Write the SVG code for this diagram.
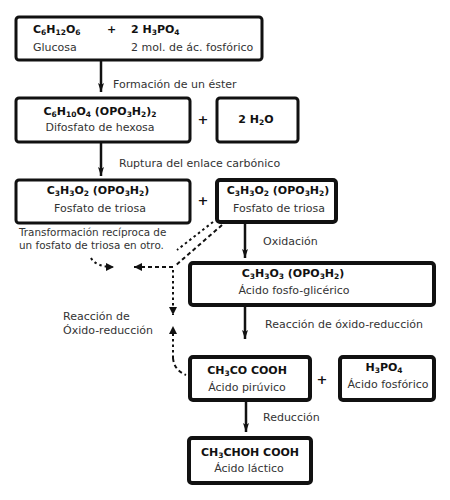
<svg xmlns="http://www.w3.org/2000/svg" width="450" height="500" viewBox="0 0 450 500">
<style>
.box{fill:#fff;stroke:#111;stroke-width:3}
.thick{stroke-width:4}
.f{font-family:"DejaVu Sans","Verdana",sans-serif;font-size:11px;font-weight:bold;fill:#111}
.n{font-family:"DejaVu Sans","Verdana",sans-serif;font-size:11px;fill:#333}
.s{font-size:10.4px}
.m{text-anchor:middle}
.sub{font-size:7.5px}
.plus{font-family:"DejaVu Sans",sans-serif;font-size:13px;font-weight:bold;fill:#111;text-anchor:middle}
.arr{stroke:#111;stroke-width:2.5;fill:none}
.dash{stroke:#111;stroke-width:2;fill:none;stroke-dasharray:4 3}
.dot{stroke:#111;stroke-width:2;fill:none;stroke-dasharray:2.5 3}
</style>
<defs>
<marker id="ah" markerUnits="userSpaceOnUse" markerWidth="10" markerHeight="10" refX="9" refY="4" orient="auto">
<path d="M0,1 L9,4 L0,7 L2,4 z" fill="#111"/>
</marker>
<marker id="dh" markerUnits="userSpaceOnUse" markerWidth="10" markerHeight="10" refX="8" refY="4" orient="auto">
<path d="M0,0 L8,4 L0,8 z" fill="#111"/>
</marker>
</defs>
<rect width="450" height="500" fill="#fff"/>
<g id="connectors">
<line class="arr" x1="101" y1="60" x2="101" y2="92" marker-end="url(#ah)"/>
<line class="arr" x1="101" y1="142" x2="101" y2="176" marker-end="url(#ah)"/>
<line class="arr" x1="245" y1="222" x2="245" y2="258" marker-end="url(#ah)"/>
<line class="arr" x1="245" y1="305" x2="245" y2="339" marker-end="url(#ah)"/>
<line class="arr" x1="246" y1="400" x2="246" y2="432" marker-end="url(#ah)"/>
<path class="dot" d="M213,222 L177,250"/>
<path class="dash" d="M222,225 L175,266"/>
<path class="dash" d="M173,267 L134,267" marker-end="url(#dh)"/>
<path class="dot" d="M91,258 Q96,267 114,267" marker-end="url(#dh)"/>
<path class="dot" d="M173,270 L173,315" marker-end="url(#dh)"/>
<path class="dot" d="M173,358 L173,326" marker-end="url(#dh)"/>
<path class="dash" d="M173,358 Q174,370 186,375"/>
</g>
<g id="n1">
<rect class="box" x="16" y="17" width="246" height="43" rx="3"/>
<text class="f" x="33" y="33">C<tspan class="sub" dy="2">6</tspan><tspan dy="-2">H</tspan><tspan class="sub" dy="2">12</tspan><tspan dy="-2">O</tspan><tspan class="sub" dy="2">6</tspan></text>
<text class="f" x="107" y="33">+</text>
<text class="f" x="131" y="33">2 H<tspan class="sub" dy="2">3</tspan><tspan dy="-2">PO</tspan><tspan class="sub" dy="2">4</tspan></text>
<text class="n" x="33" y="51">Glucosa</text>
<text class="n" x="131" y="51">2 mol. de ác. fosfórico</text>
</g>
<text class="n" x="113" y="88">Formación de un éster</text>
<g id="n2">
<rect class="box" x="16" y="98" width="174" height="44" rx="3"/>
<text class="f m" x="100" y="115">C<tspan class="sub" dy="2">6</tspan><tspan dy="-2">H</tspan><tspan class="sub" dy="2">10</tspan><tspan dy="-2">O</tspan><tspan class="sub" dy="2">4</tspan><tspan dy="-2">  (OPO</tspan><tspan class="sub" dy="2">3</tspan><tspan dy="-2">H</tspan><tspan class="sub" dy="2">2</tspan><tspan dy="-2">)</tspan><tspan class="sub" dy="2">2</tspan></text>
<text class="n m" x="100" y="131">Difosfato de hexosa</text>
</g>
<text class="plus" x="203" y="124">+</text>
<g id="n3">
<rect class="box" x="217" y="98" width="81" height="44" rx="3"/>
<text class="f m" x="256" y="123">2 H<tspan class="sub" dy="2">2</tspan><tspan dy="-2">O</tspan></text>
</g>
<text class="n" x="119" y="167">Ruptura del enlace carbónico</text>
<g id="n4">
<rect class="box" x="16" y="180" width="174" height="43" rx="3"/>
<text class="f m" x="98" y="194">C<tspan class="sub" dy="2">3</tspan><tspan dy="-2">H</tspan><tspan class="sub" dy="2">3</tspan><tspan dy="-2">O</tspan><tspan class="sub" dy="2">2</tspan><tspan dy="-2"> (OPO</tspan><tspan class="sub" dy="2">3</tspan><tspan dy="-2">H</tspan><tspan class="sub" dy="2">2</tspan><tspan dy="-2">)</tspan></text>
<text class="n m" x="100" y="212">Fosfato de triosa</text>
</g>
<text class="plus" x="203" y="205">+</text>
<g id="n5">
<rect class="box thick" x="217" y="180" width="119" height="42" rx="3"/>
<text class="f m" x="278" y="194">C<tspan class="sub" dy="2">3</tspan><tspan dy="-2">H</tspan><tspan class="sub" dy="2">3</tspan><tspan dy="-2">O</tspan><tspan class="sub" dy="2">2</tspan><tspan dy="-2"> (OPO</tspan><tspan class="sub" dy="2">3</tspan><tspan dy="-2">H</tspan><tspan class="sub" dy="2">2</tspan><tspan dy="-2">)</tspan></text>
<text class="n m" x="279" y="212">Fosfato de triosa</text>
</g>
<text class="n s" x="19" y="236">Transformación recíproca de</text>
<text class="n s" x="19" y="249">un fosfato de triosa en otro.</text>
<text class="n" x="263" y="245">Oxidación</text>
<g id="n6">
<rect class="box thick" x="190" y="263" width="244" height="42" rx="3"/>
<text class="f m" x="293" y="277">C<tspan class="sub" dy="2">3</tspan><tspan dy="-2">H</tspan><tspan class="sub" dy="2">3</tspan><tspan dy="-2">O</tspan><tspan class="sub" dy="2">3</tspan><tspan dy="-2"> (OPO</tspan><tspan class="sub" dy="2">3</tspan><tspan dy="-2">H</tspan><tspan class="sub" dy="2">2</tspan><tspan dy="-2">)</tspan></text>
<text class="n m" x="294" y="294">Ácido fosfo-glicérico</text>
</g>
<text class="n" x="63" y="320">Reacción de</text>
<text class="n" x="63" y="334">Óxido-reducción</text>
<text class="n" x="265" y="328">Reacción de óxido-reducción</text>
<g id="n7">
<rect class="box thick" x="190" y="357" width="120" height="43" rx="3"/>
<text class="f m" x="247" y="374">CH<tspan class="sub" dy="2">3</tspan><tspan dy="-2">CO COOH</tspan></text>
<text class="n m" x="247" y="391">Ácido pirúvico</text>
</g>
<text class="plus" x="322" y="384">+</text>
<g id="n8">
<rect class="box thick" x="340" y="357" width="94" height="43" rx="3"/>
<text class="f m" x="384" y="371">H<tspan class="sub" dy="2">3</tspan><tspan dy="-2">PO</tspan><tspan class="sub" dy="2">4</tspan></text>
<text class="n m" x="388" y="388">Ácido fosfórico</text>
</g>
<text class="n" x="263" y="421">Reducción</text>
<g id="n9">
<rect class="box thick" x="189" y="438" width="122" height="45" rx="3"/>
<text class="f m" x="250" y="456">CH<tspan class="sub" dy="2">3</tspan><tspan dy="-2">CHOH COOH</tspan></text>
<text class="n m" x="249" y="472">Ácido láctico</text>
</g>
</svg>
